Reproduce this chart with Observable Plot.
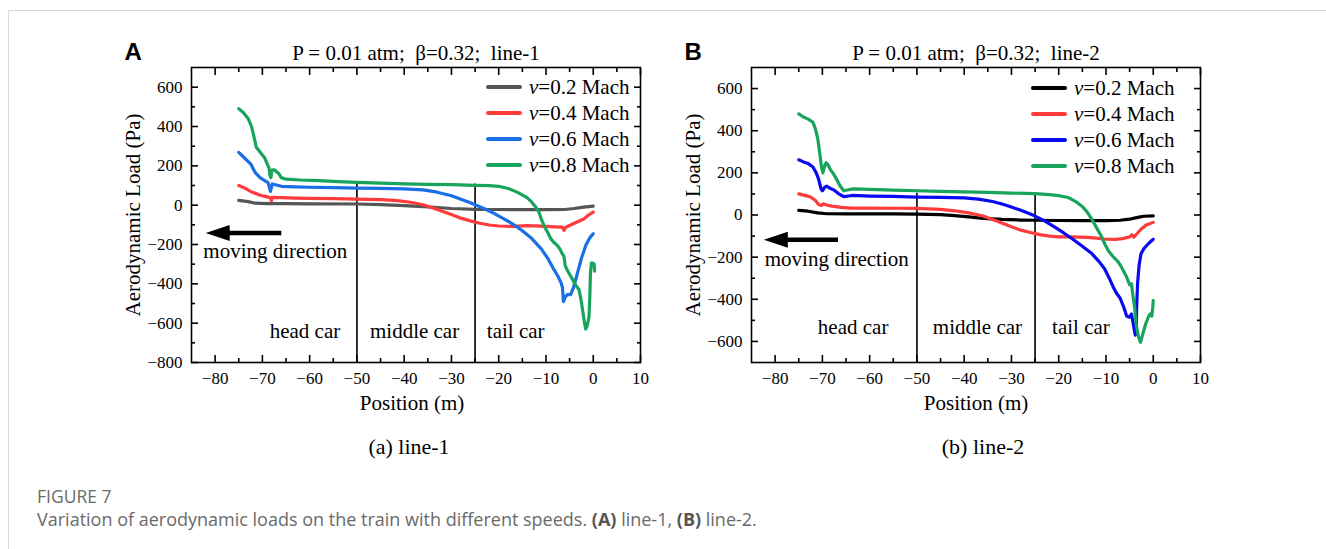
<!DOCTYPE html>
<html><head><meta charset="utf-8">
<script src="https://cdn.jsdelivr.net/npm/d3@7"></script>
<script src="https://cdn.jsdelivr.net/npm/@observablehq/plot@0.6"></script>
<style>
body{margin:0;background:#fff;width:1326px;height:549px;position:relative;overflow:hidden;font-family:"Liberation Serif",serif;}
#border{position:absolute;left:8px;top:10px;width:1330px;height:560px;border-top:1px solid #d8d8d8;border-left:1px solid #d8d8d8;}
.panel{position:absolute;top:28px;}
.legend{position:absolute;font-size:21px;line-height:26px;}
.legend .row{display:flex;align-items:center;white-space:nowrap;height:26px}
.legend .sw{display:inline-block;width:36px;height:4px;margin-right:7px;border-radius:2px}
.sub{position:absolute;font-size:22px;transform:translate(-50%,-50%);white-space:nowrap}
.cap{position:absolute;left:37px;font-family:"Open Sans",sans-serif;color:#6a6a6a;white-space:nowrap}
</style></head><body>
<div id="border"></div>
<div id="root"></div>
<script>
// ---------- data ----------
const speeds = ["0.2", "0.4", "0.6", "0.8"];
const colorsA = ["#555555", "#ff3b3b", "#1a6fe6", "#17a45c"];
const colorsB = ["#000000", "#ff3b3b", "#0a0af0", "#17a45c"];
const xMajor = [-80, -70, -60, -50, -40, -30, -20, -10, 0, 10];
const xMinor = [-75, -65, -55, -45, -35, -25, -15, -5, 5];
const yMajorA = [-800, -600, -400, -200, 0, 200, 400, 600];
const yMinorA = [-700, -500, -300, -100, 100, 300, 500];
const yMajorB = [-600, -400, -200, 0, 200, 400, 600];
const yMinorB = [-500, -300, -100, 100, 300, 500];
const xDomain = [-85, 10];
const yDomainA = [-800, 700];
const yDomainB = [-700, 700];

// panel A (line-1)
const A02 = [[-75,24],[-73,18],[-71.5,10],[-69,8],[-65,8],[-60,7],[-50,6],[-45,3],[-40,-2],[-35,-9],[-30,-17],[-25,-21],[-20,-22],[-15,-23],[-10,-23],[-6,-22],[-4,-17],[-2,-10],[0,-5]];
const A04 = [[-75,100],[-74,90],[-72.5,70],[-71,55],[-70,48],[-69,42],[-68.3,38],[-68.1,22],[-67.9,40],[-66,38],[-63,36],[-60,35],[-55,33],[-50,31],[-45,28],[-42,24],[-39,16],[-36,2],[-33,-22],[-30,-48],[-28,-66],[-26,-80],[-24,-92],[-22,-101],[-20,-106],[-17,-108],[-14,-104],[-11,-107],[-8,-110],[-6.5,-112],[-6.2,-128],[-5.8,-112],[-4,-92],[-2,-70],[-1,-50],[0,-35]];
const A06 = [[-75,268],[-74,245],[-72.5,210],[-71.5,165],[-70.5,140],[-69.5,125],[-68.8,115],[-68.3,70],[-67.9,108],[-66,96],[-63,93],[-60,91],[-55,89],[-50,87],[-45,85],[-40,83],[-36,78],[-33,66],[-30,48],[-28,30],[-26,12],[-25,2],[-23,-18],[-21,-42],[-19,-68],[-17,-96],[-15,-130],[-13,-170],[-11,-222],[-9.5,-275],[-8.5,-320],[-7.5,-360],[-6.8,-395],[-6.5,-420],[-6.3,-490],[-6.0,-470],[-5.5,-455],[-4.8,-455],[-4.2,-420],[-3.5,-360],[-2.5,-270],[-1.5,-200],[-0.7,-165],[0,-145]];
const A08 = [[-75,490],[-74,470],[-73,440],[-72.3,400],[-71.8,350],[-71.3,295],[-70.5,270],[-69.5,240],[-69,210],[-68.6,190],[-68.4,150],[-68.2,140],[-68,178],[-67.5,180],[-67,170],[-66.5,160],[-66,140],[-65,132],[-62,128],[-58,125],[-54,120],[-50,116],[-45,112],[-40,108],[-35,106],[-30,104],[-25,101],[-22,99],[-20,96],[-18,85],[-16,65],[-14,38],[-13,15],[-12,-15],[-11.5,-35],[-11,-70],[-10.3,-110],[-9.6,-140],[-9,-170],[-8.3,-190],[-7.6,-205],[-7,-225],[-6.6,-245],[-6.2,-260],[-5.9,-310],[-5.4,-335],[-4.8,-360],[-4.2,-385],[-3.75,-405],[-3.3,-420],[-3.0,-430],[-2.6,-480],[-2.3,-525],[-1.9,-590],[-1.6,-630],[-1.3,-615],[-0.9,-570],[-0.7,-450],[-0.6,-350],[-0.4,-295],[-0.1,-295],[0.2,-300],[0.3,-335]];

// panel B (line-2)
const B02 = [[-75,22],[-73,18],[-71,10],[-69,6],[-65,5],[-60,5],[-55,5],[-50,4],[-45,2],[-42,-3],[-39,-9],[-36,-16],[-32,-21],[-28,-24],[-25,-25],[-20,-26],[-15,-27],[-10,-27],[-7,-25],[-5,-20],[-4,-15],[-3,-10],[-2,-6],[0,-4]];
const B04 = [[-75,100],[-73.5,92],[-72.5,85],[-71.5,70],[-70.8,50],[-70.2,45],[-69.8,53],[-69,47],[-68,42],[-66,36],[-64,33],[-60,33],[-55,32],[-50,31],[-45,27],[-42,20],[-39,10],[-36,-5],[-33,-30],[-30,-56],[-28,-72],[-26,-83],[-24,-93],[-22,-100],[-20,-104],[-17,-104],[-14,-106],[-12,-110],[-10,-115],[-8,-116],[-6.5,-112],[-5,-104],[-4.5,-94],[-4.1,-105],[-3.5,-90],[-2.5,-65],[-1.5,-48],[0,-35]];
const B06 = [[-75,262],[-74,252],[-73,244],[-72,228],[-71.3,200],[-70.8,170],[-70.3,125],[-70,115],[-69.5,132],[-69.1,137],[-68.5,128],[-67.5,118],[-66.5,100],[-65.5,87],[-64.5,90],[-63.5,93],[-60,90],[-55,88],[-50,85],[-45,84],[-40,81],[-37,75],[-34,64],[-32,52],[-30,38],[-28,22],[-26,5],[-25,-5],[-23,-28],[-21,-55],[-19,-84],[-17,-115],[-15,-148],[-13,-183],[-11.5,-220],[-10.3,-255],[-9.3,-300],[-8.5,-340],[-7.8,-370],[-7,-395],[-6.2,-440],[-5.6,-480],[-5,-485],[-4.6,-470],[-4.2,-520],[-3.8,-570],[-3.6,-560],[-3.5,-430],[-3.3,-320],[-3,-240],[-2.6,-185],[-2,-160],[-1,-135],[0,-115]];
const B08 = [[-75,480],[-74,465],[-73,455],[-72,440],[-71.5,410],[-71,365],[-70.6,300],[-70.2,230],[-69.9,200],[-69.5,235],[-69.2,248],[-68.8,238],[-68.3,215],[-67.8,200],[-67,170],[-66.3,140],[-65.5,115],[-64.5,120],[-63.5,124],[-60,122],[-55,118],[-50,115],[-45,112],[-40,110],[-35,107],[-30,104],[-25,101],[-22,97],[-20,92],[-18,83],[-16.5,65],[-15,40],[-14,15],[-13,-20],[-12,-60],[-11,-100],[-10.2,-140],[-9.5,-170],[-8.6,-195],[-7.5,-220],[-6.8,-244],[-5.7,-291],[-5.0,-331],[-4.6,-326],[-4.3,-382],[-3.9,-445],[-3.6,-524],[-3.1,-580],[-2.7,-604],[-2.3,-572],[-1.6,-517],[-0.9,-477],[-0.6,-469],[-0.3,-480],[-0.1,-440],[0,-406]];

// annotations
const dividers = [-50, -25];
const dividerTopA = 108, dividerTopB = 103;
const sectionsA = [{label:"head car", x:-61, y:-640}, {label:"middle car", x:-37.8, y:-640}, {label:"tail car", x:-16.4, y:-640}];
const sectionsB = [{label:"head car", x:-63.5, y:-535}, {label:"middle car", x:-37.2, y:-535}, {label:"tail car", x:-15.3, y:-535}];
const arrowA = [{from:-66, to:-82, y:-142}];
const arrowB = [{from:-66.7, to:-82.4, y:-117}];
const moveTextA = [{label:"moving direction", x:-82.5, y:-235}];
const moveTextB = [{label:"moving direction", x:-82.2, y:-210}];

// ---------- drawing ----------
const headSymbol = {draw(ctx){ ctx.moveTo(0,0); ctx.lineTo(24,-8); ctx.lineTo(24,8); ctx.closePath(); }};

function makePanel(series, colors, yDomain, yMajor, yMinor, title, letter, sections, divTop, arrow, moveText, xLabelDx) {
  const data = series.flatMap((s, i) => s.map(([x, y]) => ({x, y, k: speeds[i]})));
  const tickBase = {stroke: "black", strokeWidth: 1.6, fill: "none", label: null};
  return Plot.plot({
    width: 560, height: 420,
    marginLeft: 91, marginRight: 20, marginTop: 39, marginBottom: 86,
    x: {domain: xDomain},
    y: {domain: yDomain},
    color: {domain: speeds, range: colors},
    style: {fontFamily: "Liberation Serif", fontSize: "17px", color: "black", background: "transparent", overflow: "visible"},
    marks: [
      Plot.ruleX(dividers, {y1: yDomain[0], y2: divTop, stroke: "black", strokeWidth: 1.6}),
      Plot.line(data, {x: "x", y: "y", z: "k", stroke: "k", strokeWidth: 3.2, strokeLinejoin: "round", strokeLinecap: "round"}),
      Plot.frame({stroke: "black", strokeWidth: 1.6}),
      Plot.axisX(xMajor, {anchor: "bottom", tickSize: -7, ...tickBase}),
      Plot.axisX(xMinor, {anchor: "bottom", tickSize: -4, ...tickBase}),
      Plot.axisX(xMajor, {anchor: "top", tickSize: -7, ...tickBase}),
      Plot.axisX(xMinor, {anchor: "top", tickSize: -4, ...tickBase}),
      Plot.axisY(yMajor, {anchor: "left", tickSize: -7, ...tickBase}),
      Plot.axisY(yMinor, {anchor: "left", tickSize: -4, ...tickBase}),
      Plot.axisY(yMajor, {anchor: "right", tickSize: -7, ...tickBase}),
      Plot.axisY(yMinor, {anchor: "right", tickSize: -4, ...tickBase}),
      Plot.axisX(xMajor, {anchor: "bottom", tickSize: 0, tickPadding: 9, label: null, fontSize: 17}),
      Plot.axisY(yMajor, {anchor: "left", tickSize: 0, tickPadding: 9, label: null, fontSize: 17}),
      Plot.text(["Aerodynamic Load (Pa)"], {frameAnchor: "left", rotate: -90, dx: -58, textAnchor: "middle", lineAnchor: "middle", fontSize: 21}),
      Plot.text(["Position (m)"], {frameAnchor: "bottom", dy: 41, dx: xLabelDx, lineAnchor: "middle", fontSize: 21}),
      Plot.text([title], {frameAnchor: "top", dy: -14, lineAnchor: "middle", fontSize: 21}),
      Plot.text([letter], {frameAnchor: "top-left", dx: -67, dy: -15, textAnchor: "start", lineAnchor: "middle", fontFamily: "Liberation Sans", fontWeight: "bold", fontSize: 24}),
      Plot.text(sections, {x: "x", y: "y", text: "label", fontSize: 21}),
      Plot.link(arrow, {x1: "from", x2: d => d.to + 3, y1: "y", y2: "y", stroke: "black", strokeWidth: 4.5}),
      Plot.dot(arrow, {x: "to", y: "y", symbol: headSymbol, fill: "black", stroke: "none"}),
      Plot.text(moveText, {x: "x", y: "y", text: "label", textAnchor: "start", fontSize: 21})
    ]
  });
}

function legend(colors, left, top) {
  const div = document.createElement("div");
  div.className = "legend";
  div.style.left = left + "px"; div.style.top = top + "px";
  speeds.forEach((s, i) => {
    const row = document.createElement("div");
    row.className = "row";
    row.innerHTML = `<span class="sw" style="background:${colors[i]}"></span><span><i>ν</i>=${s} Mach</span>`;
    div.appendChild(row);
  });
  return div;
}

const root = document.getElementById("root");
const pA = makePanel([A02, A04, A06, A08], colorsA, yDomainA, yMajorA, yMinorA, "P = 0.01 atm;  β=0.32;  line-1", "A", sectionsA, dividerTopA, arrowA, moveTextA, -4);
const wA = document.createElement("div"); wA.className = "panel"; wA.style.left = "100px"; wA.appendChild(pA); root.appendChild(wA);
const pB = makePanel([B02, B04, B06, B08], colorsB, yDomainB, yMajorB, yMinorB, "P = 0.01 atm;  β=0.32;  line-2", "B", sectionsB, dividerTopB, arrowB, moveTextB, 0);
const wB = document.createElement("div"); wB.className = "panel"; wB.style.left = "660px"; wB.appendChild(pB); root.appendChild(wB);
root.appendChild(legend(colorsA, 486, 74));
root.appendChild(legend(colorsB, 1031, 75));

const subs = [{t: "(a) line-1", x: 409, y: 447}, {t: "(b) line-2", x: 983, y: 447}];
subs.forEach(s => { const d = document.createElement("div"); d.className = "sub"; d.textContent = s.t; d.style.left = s.x + "px"; d.style.top = s.y + "px"; root.appendChild(d); });
const c1 = document.createElement("div"); c1.className = "cap"; c1.style.top = "484px"; c1.style.fontSize = "17.5px"; c1.textContent = "FIGURE 7"; root.appendChild(c1);
const c2 = document.createElement("div"); c2.className = "cap"; c2.style.top = "507px"; c2.style.fontSize = "18px";
c2.innerHTML = 'Variation of aerodynamic loads on the train with different speeds. <b style="color:#555">(A)</b> line-1, <b style="color:#555">(B)</b> line-2.';
root.appendChild(c2);
</script>
</body></html>
